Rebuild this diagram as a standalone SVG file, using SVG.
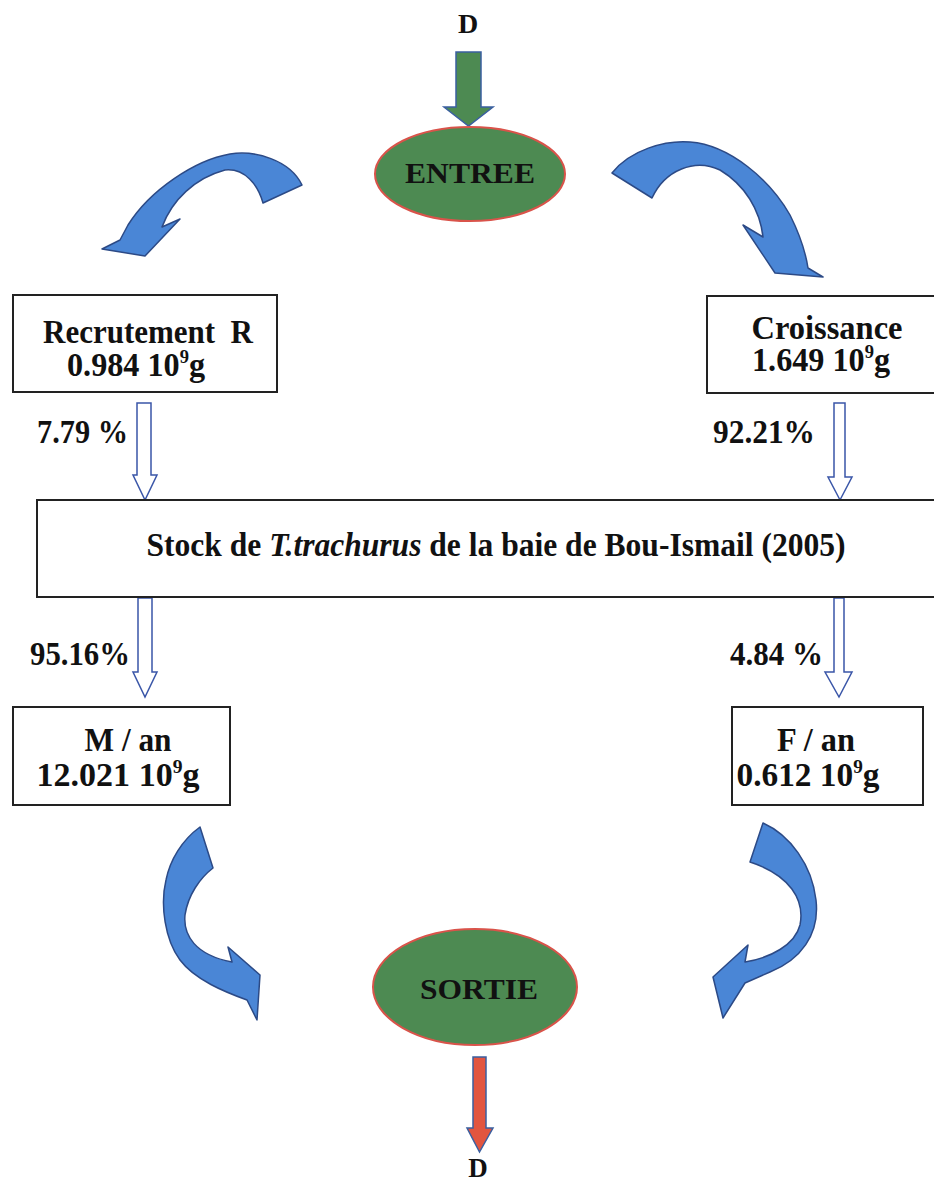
<svg xmlns="http://www.w3.org/2000/svg" width="934" height="1183" viewBox="0 0 934 1183">
<style>
text{font-family:"Liberation Serif","Times New Roman",serif;font-weight:bold;fill:#111;font-size:33px}
.box{fill:#fff;stroke:#222;stroke-width:2}
.ell{fill:#4d8a52;stroke:#d9534a;stroke-width:2}
.curve{fill:#4a86d6;stroke:#2c4a86;stroke-width:1.5;stroke-linejoin:round}
.hollow{fill:#fff;stroke:#3a56a8;stroke-width:1.5}
.mid{text-anchor:middle}
.sup{font-size:19px}
</style>
<rect width="934" height="1183" fill="#fff"/>

<g id="connectors">
  <polygon points="456,52 481,52 481,107 493,107 468.5,126 444,107 456,107" fill="#4d8a52" stroke="#3a5fa0" stroke-width="1.5"/>
  <polygon points="473,1057 486,1057 486,1128 493,1128 479.5,1152 467,1128 473,1128" fill="#e2553f" stroke="#3a5fa0" stroke-width="1.5"/>
  <path class="curve" d="M302,185 C290,160 255,150 230,154 C195,160 150,190 128,225 L120,240 L102,249 L145,256 L180,219 L162,227 C172,200 195,178 225,170 C245,168 258,185 263,203 Z"/>
  <path class="curve" d="M612,173 C630,150 665,140 690,142 C730,145 770,180 790,215 C800,235 806,255 808,268 L823,277 L775,273 L743,225 L763,237 C760,210 745,185 720,170 C695,158 665,170 652,198 Z"/>
  <path class="curve" d="M200,827 L213,868 C200,878 188,895 185,915 C183,935 195,955 232,962 L228,947 L260,975 L257,1020 L247,1000 C225,992 195,980 180,960 C165,940 160,905 166,880 C170,860 182,840 200,827 Z"/>
  <path class="curve" d="M763,823 C790,835 812,865 816,900 C820,935 800,960 770,972 L745,983 L723,1018 L713,977 L748,945 L745,962 C770,958 795,945 800,925 C805,900 790,875 750,862 Z"/>
  <polygon class="hollow" points="137,403 151,403 151,475 157,475 145,500 133,475 137,475"/>
  <polygon class="hollow" points="834,403 845,403 845,477 852,477 840,500 828,477 834,477"/>
  <polygon class="hollow" points="138,598 152,598 152,672 157,672 145,697 133,672 138,672"/>
  <polygon class="hollow" points="834,598 844,598 844,672 852,672 839,697 825,672 834,672"/>
  <text x="37" y="443" textLength="91" lengthAdjust="spacingAndGlyphs" xml:space="preserve">7.79 %</text>
  <text x="713" y="443" textLength="102" lengthAdjust="spacingAndGlyphs">92.21%</text>
  <text x="30" y="665" textLength="100" lengthAdjust="spacingAndGlyphs">95.16%</text>
  <text x="730" y="665" textLength="93" lengthAdjust="spacingAndGlyphs" xml:space="preserve">4.84 %</text>
</g>

<g id="d-top"><text class="mid" x="468" y="33" style="font-size:28px">D</text></g>

<g id="entree">
  <ellipse class="ell" cx="470" cy="174" rx="95" ry="47"/>
  <text class="mid" x="470" y="183" style="font-size:30px" textLength="130" lengthAdjust="spacingAndGlyphs">ENTREE</text>
</g>

<g id="recrutement">
  <rect class="box" x="13" y="295" width="264" height="97"/>
  <text class="mid" x="148" y="343" textLength="210" lengthAdjust="spacingAndGlyphs" xml:space="preserve">Recrutement  R</text>
  <text class="mid" x="136" y="376" textLength="138" lengthAdjust="spacingAndGlyphs">0.984 10<tspan class="sup" dy="-13">9</tspan><tspan dy="13">g</tspan></text>
</g>

<g id="croissance">
  <rect class="box" x="707" y="296" width="240" height="97"/>
  <text class="mid" x="827" y="339" textLength="151" lengthAdjust="spacingAndGlyphs">Croissance</text>
  <text class="mid" x="821" y="371" textLength="138" lengthAdjust="spacingAndGlyphs">1.649 10<tspan class="sup" dy="-13">9</tspan><tspan dy="13">g</tspan></text>
</g>

<g id="stock">
  <rect class="box" x="37" y="500" width="910" height="97"/>
  <text class="mid" x="496" y="556" textLength="699" lengthAdjust="spacingAndGlyphs">Stock de <tspan font-style="italic">T.trachurus</tspan> de la baie de Bou-Ismail (2005)</text>
</g>

<g id="mortalite">
  <rect class="box" x="13" y="707" width="217" height="98"/>
  <text class="mid" x="128" y="751" textLength="87" lengthAdjust="spacingAndGlyphs">M / an</text>
  <text class="mid" x="118" y="786" textLength="163" lengthAdjust="spacingAndGlyphs">12.021 10<tspan class="sup" dy="-13">9</tspan><tspan dy="13">g</tspan></text>
</g>

<g id="peche">
  <rect class="box" x="732" y="707" width="191" height="98"/>
  <text class="mid" x="816" y="751" textLength="78" lengthAdjust="spacingAndGlyphs">F / an</text>
  <text class="mid" x="808" y="786" textLength="143" lengthAdjust="spacingAndGlyphs">0.612 10<tspan class="sup" dy="-13">9</tspan><tspan dy="13">g</tspan></text>
</g>

<g id="sortie">
  <ellipse class="ell" cx="475" cy="987" rx="102" ry="58"/>
  <text class="mid" x="479" y="999" style="font-size:30px" textLength="118" lengthAdjust="spacingAndGlyphs">SORTIE</text>
</g>

<g id="d-bottom"><text class="mid" x="478" y="1177" style="font-size:27px">D</text></g>
</svg>
